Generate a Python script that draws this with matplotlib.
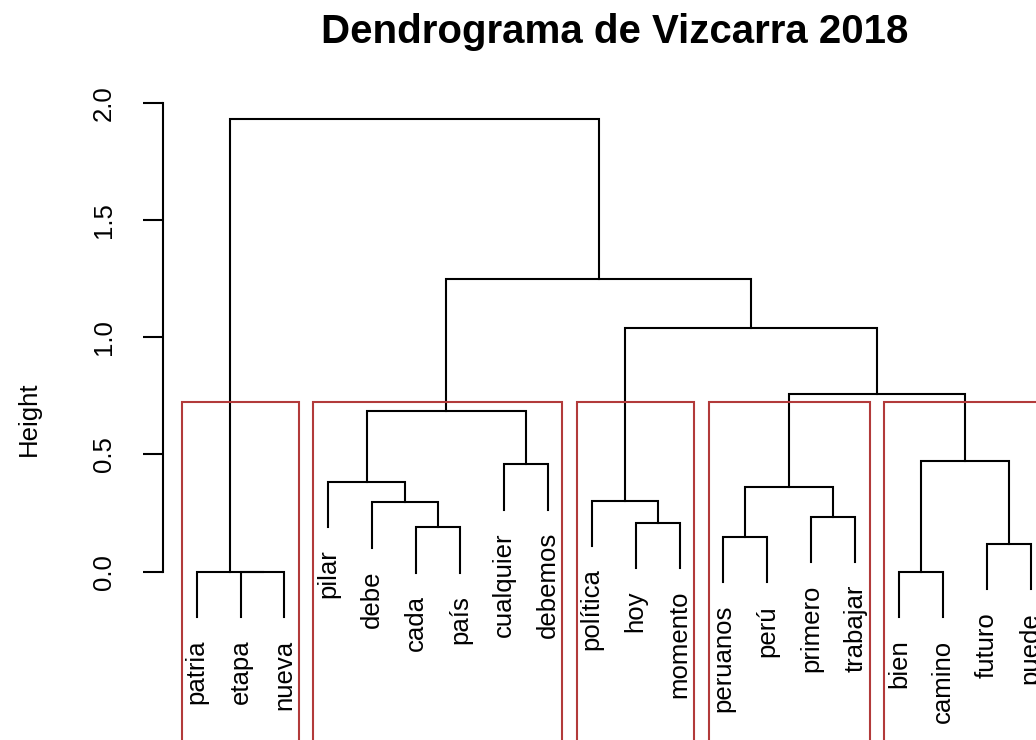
import numpy as np
import matplotlib
matplotlib.use('Agg')
import matplotlib.pyplot as plt
from matplotlib.patches import Rectangle

plt.rcParams['font.family'] = ['Liberation Sans', 'DejaVu Sans']

# leaves in plotting order
leaf_labels = ['patria', 'etapa', 'nueva', 'pilar', 'debe', 'cada', 'país',
               'cualquier', 'debemos', 'política', 'hoy', 'momento',
               'peruanos', 'perú', 'primero', 'trabajar', 'bien', 'camino',
               'futuro', 'puede']
# R hclust style merges: negative = leaf (1-based position), positive = earlier merge
merge_left = [-2, -1, -17, -19, -13, -6, -11, -15, -5, -10, 5, -4, -8, 3, 12, 11, 10, 15, 2]
merge_right = [-3, 1, -18, -20, -14, -7, -12, -16, 6, 7, 8, 9, -9, 4, 13, 14, 16, 17, 18]
merge_height = [0.0, 0.0, 0.0, 0.118, 0.147, 0.189, 0.209, 0.235, 0.296, 0.302,
                0.360, 0.384, 0.458, 0.472, 0.685, 0.758, 1.04, 1.25, 1.929]
cluster_sizes = [3, 6, 3, 4, 4]   # k = 5

hang = 0.1 * max(merge_height)

fig = plt.figure(figsize=(10.36, 7.40), dpi=100)
W, H = 1036.0, 740.0
ax = fig.add_axes([163.3 / W, (H - 759.3) / H, 900.8 / W, (759.3 - 99.4) / H])
ax.set_xlim(0.24, 20.76)
ax.set_ylim(-0.8, 2.014)

node_x = []
for i in range(len(merge_height)):
    h = merge_height[i]
    pts = []
    for c in (merge_left[i], merge_right[i]):
        if c < 0:
            x = -c
            y = h - hang
            ax.text(x, y - 0.096, leaf_labels[x - 1], rotation=90, ha='center',
                    va='top', fontsize=18.5)
        else:
            x = node_x[c - 1]
            y = merge_height[c - 1]
        pts.append((x, y))
    (x1, y1), (x2, y2) = pts
    ax.plot([x1, x1, x2, x2], [y1, h, h, y2], color='black', lw=1.5,
            solid_joinstyle='miter', clip_on=False)
    node_x.append((x1 + x2) / 2)

# red boxes like rect.hclust
hs = sorted(merge_height, reverse=True)
k = len(cluster_sizes)
rect_top = (hs[k - 2] + hs[k - 1]) / 2
start = 1
for n in cluster_sizes:
    end = start + n - 1
    ax.add_patch(Rectangle((start - 0.34, -0.8), end + 0.33 - (start - 0.34), rect_top + 0.8,
                           fill=False, edgecolor='#b23a3a', lw=1.5, zorder=5))
    start = end + 1

for s in ['top', 'right', 'bottom']:
    ax.spines[s].set_visible(False)
ax.spines['left'].set_bounds(0, 2)
ax.spines['left'].set_linewidth(1.5)
ax.set_xticks([])
ax.set_yticks([0, 0.5, 1.0, 1.5, 2.0])
ax.set_yticklabels(['0.0', '0.5', '1.0', '1.5', '2.0'], rotation=90, va='center',
                   fontsize=18.5)
ax.tick_params(axis='y', length=14.4, width=1.5, pad=20, direction='out')

fig.text(29 / W, 1 - 419 / H, 'Height', rotation=90, ha='center', va='center',
         fontsize=18.5)
fig.text(615 / W, 1 - 32 / H, 'Dendrograma de Vizcarra 2018', ha='center',
         va='center', fontsize=29, fontweight='bold')

fig.savefig('out.png', dpi=100)
